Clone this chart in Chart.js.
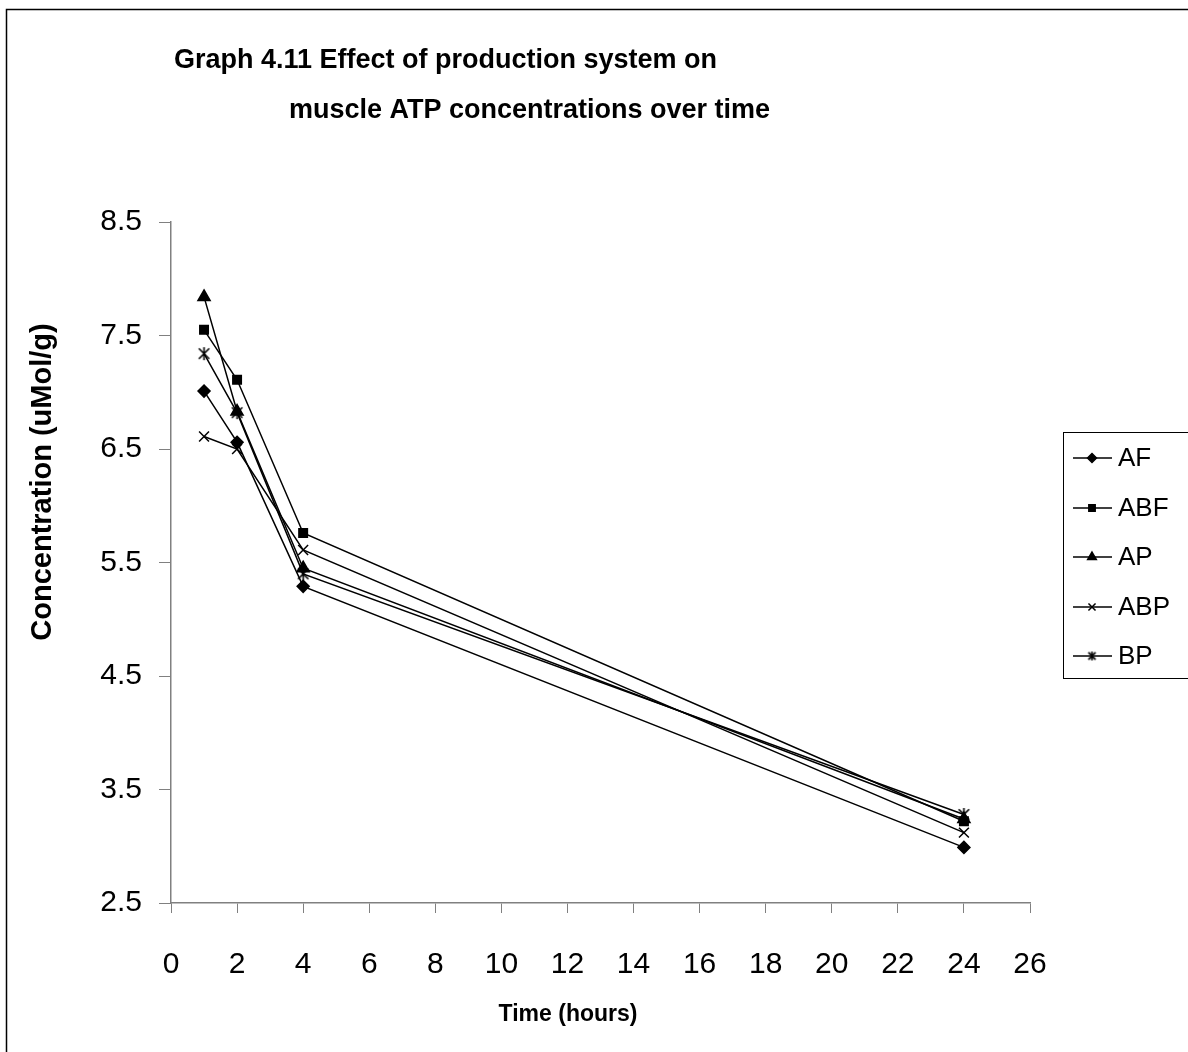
<!DOCTYPE html>
<html>
<head>
<meta charset="utf-8">
<script src="https://cdn.jsdelivr.net/npm/chart.js@4/dist/chart.umd.min.js"></script>
<style>
  html, body { margin: 0; padding: 0; background: #fff; }
  canvas { display: block; }
</style>
</head>
<body>
<canvas id="atpChart" width="1188" height="1052"></canvas>
<script>
// data
const hours = [1, 2, 4, 24];
const seriesNames = ["AF", "ABF", "AP", "ABP", "BP"];
const afValues = [7.01, 6.56, 5.29, 2.99];
const abfValues = [7.55, 7.11, 5.76, 3.22];
const apValues = [7.84, 6.83, 5.45, 3.24];
const abpValues = [6.61, 6.50, 5.61, 3.12];
const bpValues = [7.34, 6.82, 5.40, 3.28];
const yTickValues = [2.5, 3.5, 4.5, 5.5, 6.5, 7.5, 8.5];
const titleLines = ["Graph 4.11 Effect of production system on", "muscle ATP concentrations over time"];
const xTitle = "Time (hours)";
const yTitle = "Concentration (uMol/g)";

const FONT = "'Liberation Sans', Arial, sans-serif";

// asterisk marker (x with a vertical bar), like the spreadsheet one
function makeAsterisk(size) {
    const c = document.createElement("canvas");
    c.width = size; c.height = size;
    const g = c.getContext("2d");
    const m = size / 2, r = size / 2 - 1;
    g.strokeStyle = "#000";
    g.lineWidth = 1.6;
    g.beginPath();
    g.moveTo(m - r * 0.8, m - r * 0.8); g.lineTo(m + r * 0.8, m + r * 0.8);
    g.moveTo(m + r * 0.8, m - r * 0.8); g.lineTo(m - r * 0.8, m + r * 0.8);
    g.moveTo(m, m - r); g.lineTo(m, m + r);
    g.stroke();
    return c;
}

const styles = [
    { pointStyle: "rectRot", radius: 6, legendRadius: 4.5 },
    { pointStyle: "rect", radius: 6, legendRadius: 4.5 },
    { pointStyle: "triangle", radius: 7, legendRadius: 5 },
    { pointStyle: "cross", radius: 7, legendRadius: 5, rotation: 45 },
    { pointStyle: makeAsterisk(15), radius: 7, legendImg: makeAsterisk(11) }
];
const allValues = [afValues, abfValues, apValues, abpValues, bpValues];

const datasets = allValues.map(function (vals, i) {
    return {
        label: seriesNames[i],
        data: hours.map(function (h, j) { return { x: h, y: vals[j] }; }),
        borderColor: "#000",
        backgroundColor: "#000",
        borderWidth: 1.5,
        pointStyle: styles[i].pointStyle,
        pointRotation: styles[i].rotation || 0,
        pointRadius: styles[i].radius,
        pointBorderWidth: 1.5,
        pointBorderColor: "#000",
        pointBackgroundColor: "#000",
        tension: 0
    };
});

// titles, frame and legend drawn by hand
const decorations = {
    id: "decorations",
    afterDraw(chart) {
        const ctx = chart.ctx;
        ctx.save();

        // outer frame (runs off the right and bottom)
        ctx.strokeStyle = "#000";
        ctx.lineWidth = 1.5;
        ctx.strokeRect(6.5, 9.5, 1300, 1200);

        // chart title
        ctx.fillStyle = "#000";
        ctx.font = "bold 27px " + FONT;
        ctx.textBaseline = "middle";
        ctx.textAlign = "left";
        ctx.fillText(titleLines[0], 174, 61);
        ctx.fillText(titleLines[1], 289, 111);

        // axis titles
        ctx.font = "bold 23px " + FONT;
        ctx.textAlign = "center";
        ctx.fillText(xTitle, 568, 1015);
        ctx.save();
        ctx.font = "bold 29px " + FONT;
        ctx.translate(43, 482);
        ctx.rotate(-Math.PI / 2);
        ctx.fillText(yTitle, 0, 0);
        ctx.restore();

        // legend box
        ctx.lineWidth = 1;
        ctx.strokeStyle = "#000";
        ctx.strokeRect(1063.5, 432.5, 200, 246);
        ctx.font = "26px " + FONT;
        ctx.textAlign = "left";
        const rowY = [458, 508, 557, 607, 656];
        chart.data.datasets.forEach(function (ds, i) {
            const y = rowY[i];
            ctx.strokeStyle = "#000";
            ctx.lineWidth = 1.5;
            ctx.beginPath();
            ctx.moveTo(1073, y);
            ctx.lineTo(1112, y);
            ctx.stroke();
            const st = styles[i];
            if (st.legendImg) {
                ctx.drawImage(st.legendImg, 1092 - st.legendImg.width / 2, y - st.legendImg.height / 2);
            } else {
                Chart.helpers.drawPoint(ctx, {
                    pointStyle: st.pointStyle,
                    rotation: st.rotation || 0,
                    radius: st.legendRadius,
                    borderWidth: 1.5
                }, 1092, y);
            }
            ctx.fillStyle = "#000";
            ctx.fillText(ds.label, 1118, y + 1);
        });

        ctx.restore();
    }
};

const axisGray = "#808080";

new Chart(document.getElementById("atpChart"), {
    type: "line",
    data: { datasets: datasets },
    options: {
        responsive: false,
        animation: false,
        devicePixelRatio: 1,
        layout: { padding: { top: 222, right: 158, left: 0, bottom: 0 } },
        plugins: {
            legend: { display: false },
            tooltip: { enabled: false },
            title: { display: false }
        },
        elements: { point: { hoverRadius: 6 } },
        scales: {
            x: {
                type: "linear",
                min: 0,
                max: 26,
                ticks: {
                    stepSize: 2,
                    color: "#000",
                    padding: 34,
                    font: { family: FONT, size: 30 },
                    maxRotation: 0
                },
                grid: {
                    drawOnChartArea: false,
                    drawTicks: true,
                    tickLength: 10,
                    color: axisGray
                },
                border: { color: axisGray, width: 1.5 },
                afterFit(scale) { scale.height = 149; }
            },
            y: {
                type: "linear",
                min: 2.5,
                max: 8.5,
                afterBuildTicks(scale) {
                    scale.ticks = yTickValues.map(function (v) { return { value: v }; });
                },
                ticks: {
                    color: "#000",
                    padding: 17,
                    font: { family: FONT, size: 30 },
                    callback: function (v) { return Number(v).toFixed(1); }
                },
                grid: {
                    drawOnChartArea: false,
                    drawTicks: true,
                    tickLength: 12,
                    color: axisGray
                },
                border: { color: axisGray, width: 1.5 },
                afterFit(scale) { scale.width = 171; }
            }
        }
    },
    plugins: [decorations]
});
</script>
</body>
</html>
